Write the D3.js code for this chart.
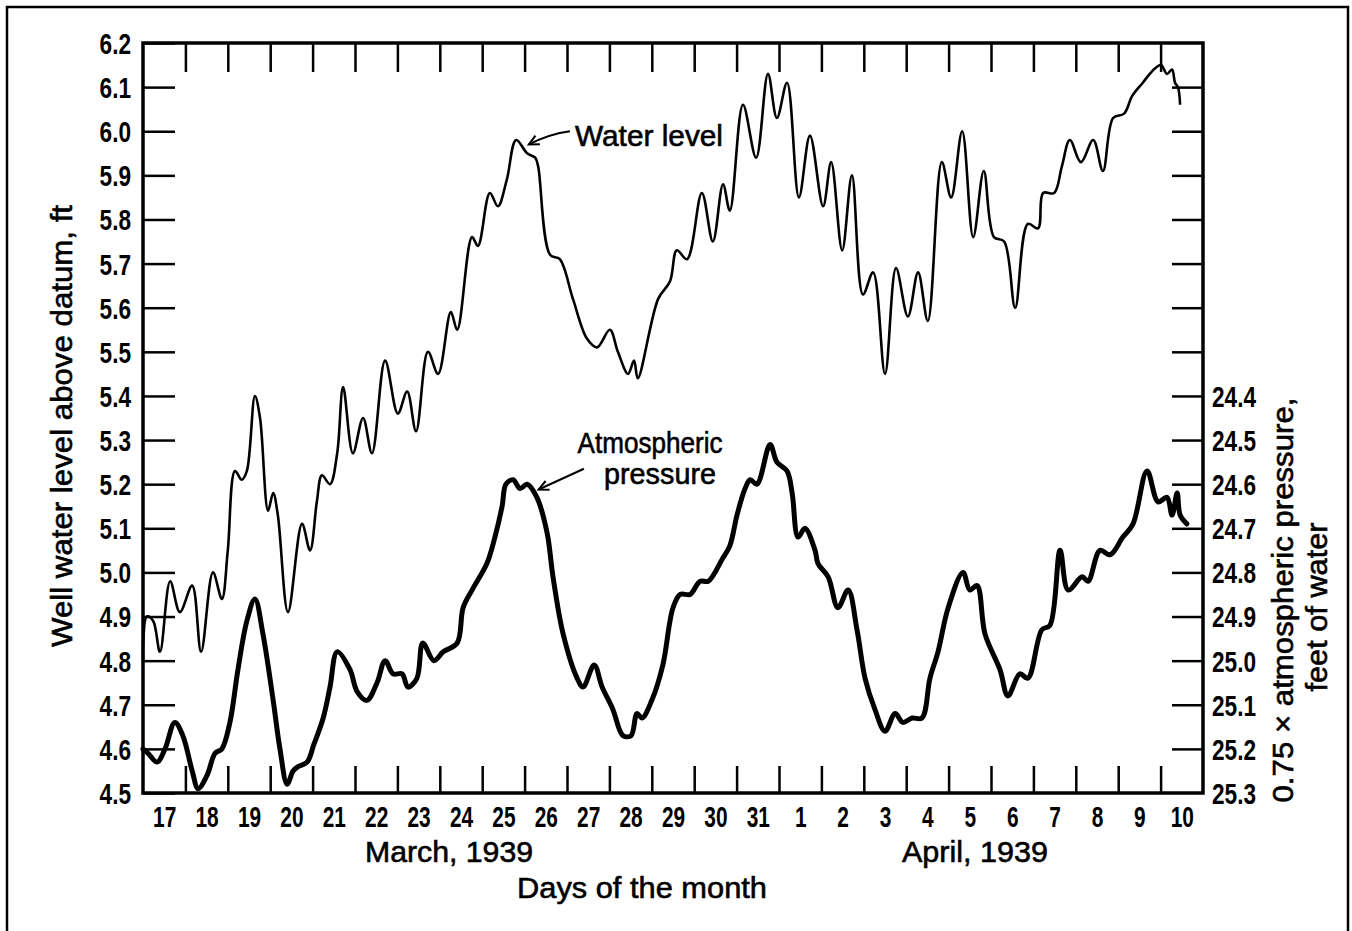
<!DOCTYPE html>
<html>
<head>
<meta charset="utf-8">
<script src="https://cdn.jsdelivr.net/npm/d3@7"></script>
<style>
  body { margin: 0; background: #fff; }
  svg { display: block; }
  .tick line { stroke: #000; }
</style>
</head>
<body>
<div id="chart"></div>
<script>
// days since Mar 17, 1939 00:00  ->  well water level above datum (ft)
var waterLevel = [
  [0.00,4.80],[0.09,4.90],[0.24,4.89],[0.40,4.82],[0.64,4.98],[0.87,4.91],[1.16,4.97],[1.37,4.82],
  [1.65,5.00],[1.86,4.94],[2.00,5.05],[2.17,5.23],[2.33,5.21],[2.45,5.23],[2.64,5.40],[2.76,5.35],
  [2.95,5.14],[3.07,5.18],[3.18,5.13],[3.42,4.91],[3.75,5.11],[3.94,5.05],[4.10,5.16],[4.22,5.22],
  [4.41,5.20],[4.58,5.27],[4.72,5.42],[4.95,5.27],[5.19,5.35],[5.40,5.27],[5.71,5.48],[6.01,5.36],
  [6.23,5.41],[6.44,5.32],[6.72,5.50],[6.96,5.45],[7.26,5.59],[7.41,5.55],[7.76,5.76],[7.90,5.74],
  [8.18,5.86],[8.37,5.83],[8.58,5.89],[8.80,5.98],[9.06,5.95],[9.25,5.94],[9.32,5.92],[9.60,5.72],
  [9.83,5.71],[10.14,5.62],[10.47,5.53],[10.71,5.51],[11.01,5.55],[11.20,5.50],[11.44,5.45],[11.58,5.48],
  [11.67,5.44],[12.15,5.62],[12.43,5.66],[12.59,5.73],[12.83,5.71],[13.18,5.86],[13.44,5.75],[13.68,5.88],
  [13.84,5.82],[14.15,6.06],[14.46,5.94],[14.74,6.13],[14.95,6.03],[15.19,6.11],[15.47,5.85],[15.73,5.99],
  [16.04,5.83],[16.23,5.93],[16.49,5.73],[16.72,5.90],[16.98,5.63],[17.22,5.68],[17.50,5.45],[17.76,5.69],
  [18.04,5.58],[18.28,5.68],[18.51,5.57],[18.84,5.93],[19.06,5.85],[19.32,6.00],[19.58,5.76],[19.83,5.91],
  [20.07,5.76],[20.31,5.75],[20.57,5.60],[20.87,5.79],[21.11,5.78],[21.23,5.86],[21.49,5.86],[21.67,5.92],
  [21.86,5.98],[22.12,5.93],[22.41,5.98],[22.64,5.91],[22.88,6.03],[23.14,6.04],[23.33,6.08],[23.58,6.11],
  [23.84,6.14],[24.01,6.15],[24.15,6.13],[24.27,6.14],[24.34,6.11],[24.41,6.10],[24.46,6.06]
];

// days since Mar 17, 1939 00:00  ->  0.75 x atmospheric pressure (ft of water)
var pressure = [
  [0.00,25.20],[0.12,25.21],[0.33,25.23],[0.52,25.20],[0.75,25.14],[0.94,25.17],[1.16,25.25],[1.30,25.29],
  [1.51,25.26],[1.70,25.21],[1.86,25.20],[2.05,25.14],[2.24,25.02],[2.45,24.91],[2.64,24.86],[2.83,24.94],
  [3.07,25.09],[3.23,25.20],[3.40,25.28],[3.54,25.25],[3.66,25.24],[3.87,25.23],[4.03,25.19],[4.25,25.13],
  [4.41,25.06],[4.58,24.98],[4.88,25.02],[5.05,25.07],[5.28,25.09],[5.52,25.05],[5.71,25.00],[5.90,25.03],
  [6.11,25.03],[6.25,25.06],[6.46,25.04],[6.60,24.96],[6.86,25.00],[7.08,24.98],[7.41,24.96],[7.55,24.88],
  [7.76,24.84],[8.11,24.78],[8.30,24.72],[8.47,24.65],[8.56,24.60],[8.73,24.59],[8.89,24.61],[9.06,24.60],
  [9.29,24.63],[9.53,24.71],[9.67,24.81],[9.91,24.94],[10.24,25.04],[10.38,25.06],[10.64,25.01],[10.83,25.06],
  [11.08,25.11],[11.32,25.17],[11.51,25.17],[11.65,25.12],[11.77,25.13],[12.00,25.09],[12.26,25.01],[12.50,24.88],
  [12.67,24.85],[12.90,24.85],[13.14,24.82],[13.33,24.82],[13.66,24.77],[13.84,24.74],[14.01,24.67],[14.20,24.61],
  [14.32,24.59],[14.48,24.60],[14.79,24.51],[14.95,24.55],[15.19,24.57],[15.31,24.62],[15.45,24.72],[15.61,24.70],
  [15.85,24.75],[15.92,24.78],[16.16,24.81],[16.39,24.88],[16.63,24.84],[16.84,24.93],[17.03,25.04],[17.26,25.11],
  [17.50,25.16],[17.74,25.12],[17.92,25.14],[18.14,25.13],[18.37,25.13],[18.56,25.04],[18.75,24.98],[18.99,24.88],
  [19.34,24.80],[19.50,24.84],[19.67,24.83],[19.86,24.94],[20.21,25.02],[20.40,25.08],[20.68,25.03],[20.87,25.04],
  [21.20,24.93],[21.39,24.92],[21.63,24.75],[21.82,24.84],[22.15,24.81],[22.29,24.82],[22.57,24.75],[22.81,24.76],
  [23.11,24.72],[23.35,24.69],[23.68,24.57],[23.94,24.64],[24.15,24.63],[24.27,24.67],[24.39,24.62],[24.46,24.67],
  [24.62,24.69]
];

var dayLabels = ["17","18","19","20","21","22","23","24","25","26","27","28","29","30","31",
                 "1","2","3","4","5","6","7","8","9","10"];
var leftTicks = [4.5,4.6,4.7,4.8,4.9,5.0,5.1,5.2,5.3,5.4,5.5,5.6,5.7,5.8,5.9,6.0,6.1,6.2];
var rightTicks = [23.7,23.8,23.9,24.0,24.1,24.2,24.3,24.4,24.5,24.6,24.7,24.8,24.9,25.0,25.1,25.2,25.3];
var rightLabelMin = 24.4;

(function(){
  var W = 1352, H = 931;
  var pLeft = 143, pRight = 1203, pTop = 43, pBottom = 793;
  var font = "'Liberation Sans', Arial, sans-serif";

  var svg = d3.select("#chart").append("svg")
      .attr("width", W).attr("height", H);

  svg.append("rect").attr("width", W).attr("height", H).attr("fill", "#fff");

  // outer frame (no bottom edge)
  svg.append("path")
      .attr("d", "M7," + H + "V7H1348V" + H)
      .attr("fill", "none").attr("stroke", "#000").attr("stroke-width", 2.5);

  var x = d3.scaleLinear().domain([0, 25]).range([pLeft, pRight]);
  var yL = d3.scaleLinear().domain([4.5, 6.2]).range([pBottom, pTop]);
  var yR = d3.scaleLinear().domain([25.3, 23.6]).range([pBottom, pTop]);

  var fmt = d3.format(".1f");

  function squeeze(sel, k){
    sel.each(function(){
      var w = this.getComputedTextLength();
      if (w > 0) {
        this.setAttribute("textLength", w * k);
        this.setAttribute("lengthAdjust", "spacingAndGlyphs");
      }
    });
  }
  function fit(sel, width){
    sel.attr("textLength", width).attr("lengthAdjust", "spacingAndGlyphs")
       .attr("stroke", "#000").attr("stroke-width", 0.6);
  }

  // left axis
  var gL = svg.append("g").attr("transform", "translate(" + pLeft + ",0)")
      .call(d3.axisLeft(yL).tickValues(leftTicks).tickFormat(fmt).tickSize(-32).tickPadding(12));
  gL.select(".domain").remove();
  gL.selectAll("line").attr("stroke-width", 2.5);
  gL.selectAll("text").attr("font-family", font).attr("font-weight", "bold")
      .attr("font-size", 29).attr("fill", "#000").attr("dy", "0.36em");
  squeeze(gL.selectAll("text"), 0.78);

  // right axis
  var gR = svg.append("g").attr("transform", "translate(" + pRight + ",0)")
      .call(d3.axisRight(yR).tickValues(rightTicks)
        .tickFormat(function(d){ return d >= rightLabelMin - 1e-6 ? fmt(d) : ""; })
        .tickSize(-31).tickPadding(9));
  gR.select(".domain").remove();
  gR.selectAll("line").attr("stroke-width", 2.5);
  gR.selectAll(".tick").filter(function(d){ return d > 25.25; }).select("line").remove();
  gR.selectAll("text").attr("font-family", font).attr("font-weight", "bold")
      .attr("font-size", 29).attr("fill", "#000").attr("dy", "0.36em");
  squeeze(gR.selectAll("text"), 0.78);

  // day ticks, top and bottom
  var dayBounds = d3.range(1, 25);
  var gT = svg.append("g").attr("transform", "translate(0," + pTop + ")")
      .call(d3.axisTop(x).tickValues(dayBounds).tickFormat("").tickSize(-29));
  gT.select(".domain").remove();
  gT.selectAll("line").attr("stroke-width", 2.5);

  var gB = svg.append("g").attr("transform", "translate(0," + pBottom + ")")
      .call(d3.axisBottom(x).tickValues(dayBounds).tickFormat("").tickSize(-27));
  gB.select(".domain").remove();
  gB.selectAll("line").attr("stroke-width", 2.5);

  var gBL = svg.append("g").attr("transform", "translate(0," + pBottom + ")")
      .call(d3.axisBottom(x).tickValues(d3.range(0.5, 25, 1))
        .tickFormat(function(d, i){ return dayLabels[i]; }).tickSize(0).tickPadding(12));
  gBL.select(".domain").remove();
  gBL.selectAll("text").attr("font-family", font).attr("font-weight", "bold")
      .attr("font-size", 29).attr("fill", "#000").attr("dy", "0.76em");
  squeeze(gBL.selectAll("text"), 0.72);

  // plot frame
  svg.append("rect")
      .attr("x", pLeft).attr("y", pTop).attr("width", pRight - pLeft).attr("height", pBottom - pTop)
      .attr("fill", "none").attr("stroke", "#000").attr("stroke-width", 3.5);

  // curves
  var lineW = d3.line().x(function(d){ return x(d[0]); }).y(function(d){ return yL(d[1]); })
      .curve(d3.curveCatmullRom.alpha(0.5));
  var lineP = d3.line().x(function(d){ return x(d[0]); }).y(function(d){ return yR(d[1]); })
      .curve(d3.curveCatmullRom.alpha(0.5));

  svg.append("path").datum(waterLevel).attr("d", lineW)
      .attr("fill", "none").attr("stroke", "#000").attr("stroke-width", 2.6)
      .attr("stroke-linejoin", "round");
  svg.append("path").datum(pressure).attr("d", lineP)
      .attr("fill", "none").attr("stroke", "#000").attr("stroke-width", 5)
      .attr("stroke-linejoin", "round").attr("stroke-linecap", "round");

  // annotations
  function arrow(x0, y0, x1, y1, bend){
    var mx = (x0 + x1) / 2, my = (y0 + y1) / 2 - bend;
    svg.append("path")
      .attr("d", "M" + x0 + "," + y0 + "Q" + mx + "," + my + " " + x1 + "," + y1)
      .attr("fill", "none").attr("stroke", "#000").attr("stroke-width", 2);
    var a = Math.atan2(y1 - my, x1 - mx), L = 11, s = 0.45;
    svg.append("path")
      .attr("d", "M" + (x1 - L * Math.cos(a - s)) + "," + (y1 - L * Math.sin(a - s)) +
                 "L" + x1 + "," + y1 +
                 "L" + (x1 - L * Math.cos(a + s)) + "," + (y1 - L * Math.sin(a + s)))
      .attr("fill", "none").attr("stroke", "#000").attr("stroke-width", 2);
  }
  arrow(x(10.07), yL(6.00), x(9.1), yL(5.97), 4);
  arrow(x(10.40), yR(24.565), x(9.33), yR(24.612), 0);

  svg.append("text").attr("x", 575).attr("y", 146).text("Water level")
      .attr("font-family", font).attr("font-size", 30).call(fit, 148);
  svg.append("text").attr("x", 650).attr("y", 453).attr("text-anchor", "middle").text("Atmospheric")
      .attr("font-family", font).attr("font-size", 29).call(fit, 145);
  svg.append("text").attr("x", 660).attr("y", 484).attr("text-anchor", "middle").text("pressure")
      .attr("font-family", font).attr("font-size", 29).call(fit, 112);

  svg.append("text").attr("x", 449).attr("y", 862).attr("text-anchor", "middle").text("March, 1939")
      .attr("font-family", font).attr("font-size", 30).call(fit, 168);
  svg.append("text").attr("x", 975).attr("y", 862).attr("text-anchor", "middle").text("April, 1939")
      .attr("font-family", font).attr("font-size", 30).call(fit, 146);
  svg.append("text").attr("x", 642).attr("y", 898).attr("text-anchor", "middle").text("Days of the month")
      .attr("font-family", font).attr("font-size", 30).call(fit, 250);

  svg.append("text").attr("transform", "translate(72,426) rotate(-90)")
      .attr("text-anchor", "middle").text("Well water level above datum, ft")
      .attr("font-family", font).attr("font-size", 30).call(fit, 442);
  svg.append("text").attr("transform", "translate(1293,600) rotate(-90)")
      .attr("text-anchor", "middle").text("0.75 \u00d7 atmospheric pressure,")
      .attr("font-family", font).attr("font-size", 30).call(fit, 405);
  svg.append("text").attr("transform", "translate(1327,607) rotate(-90)")
      .attr("text-anchor", "middle").text("feet of water")
      .attr("font-family", font).attr("font-size", 30).call(fit, 169);
})();
</script>
</body>
</html>
